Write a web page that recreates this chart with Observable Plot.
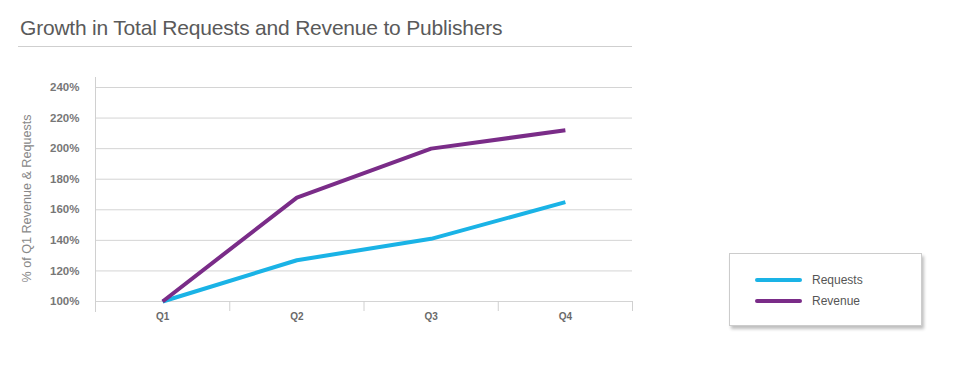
<!DOCTYPE html>
<html>
<head>
<meta charset="utf-8">
<script src="https://cdn.jsdelivr.net/npm/d3@7"></script>
<script src="https://cdn.jsdelivr.net/npm/@observablehq/plot@0.6"></script>
<style>
  html, body { margin: 0; padding: 0; background: #fff; }
  body { width: 970px; height: 372px; position: relative; overflow: hidden; font-family: "Liberation Sans", Arial, sans-serif; }
  #title { position: absolute; left: 20px; top: 16px; font-size: 21px; color: #5a5a5a; letter-spacing: -0.2px; font-weight: 400; }
  #rule { position: absolute; left: 18px; top: 46px; width: 614px; height: 1px; background: #cfcfcf; }
  #chart { position: absolute; left: 0; top: 50px; }
  #legend { position: absolute; left: 729px; top: 253px; width: 191px; height: 71px; border: 1px solid #cccccc; box-shadow: 2px 3px 3px rgba(0,0,0,0.25); background: #fff; }
  .item { position: absolute; left: 25px; height: 14px; font-size: 12px; color: #555; }
  .sw { position: absolute; left: 0; top: 5px; width: 47px; height: 4px; border-radius: 2px; }
  .lab { position: absolute; left: 57px; top: 0; line-height: 14px; white-space: nowrap; }
</style>
</head>
<body>
<div id="title">Growth in Total Requests and Revenue to Publishers</div>
<div id="rule"></div>
<div id="chart"></div>
<div id="legend"></div>
<script>
const quarters = ["Q1", "Q2", "Q3", "Q4"];
const requests = [100, 127, 141, 165];
const revenue = [100, 168, 200, 212];
const seriesNames = ["Requests", "Revenue"];
const seriesColors = ["#1ab3e6", "#7a2c88"];
const yTicks = [100, 120, 140, 160, 180, 200, 220, 240];
const yLabel = "% of Q1 Revenue & Requests";

const data = quarters.flatMap((q, i) => [
  {q, i, series: seriesNames[0], value: requests[i]},
  {q, i, series: seriesNames[1], value: revenue[i]}
]);

const plot = Plot.plot({
  width: 970,
  height: 322,
  marginLeft: 95,
  marginRight: 338,
  marginTop: 37,
  marginBottom: 71,
  style: {fontFamily: "'Liberation Sans', Arial, sans-serif", background: "transparent"},
  x: {type: "linear", domain: [0, quarters.length]},
  y: {domain: [100, 240]},
  color: {domain: seriesNames, range: seriesColors},
  marks: [
    Plot.gridY(yTicks, {stroke: "#d4d4d4", strokeOpacity: 1}),
    Plot.ruleX([0], {stroke: "#d0d0d0", insetTop: -10, insetBottom: -11}),
    Plot.axisX(d3.range(quarters.length + 1), {tickSize: 10, tickFormat: () => "", stroke: "#d0d0d0", label: null}),
    Plot.axisX(quarters.map((q, i) => i + 0.5), {tickSize: 0, tickPadding: 11, tickFormat: d => quarters[Math.round(d - 0.5)], fontSize: 10, fontWeight: "bold", fill: "#6a6a6a", label: null}),
    Plot.axisY(yTicks, {tickSize: 0, tickPadding: 16, tickFormat: d => d + "%", fontSize: 11.5, fontWeight: "bold", fill: "#777", label: null}),
    Plot.text([yLabel], {text: d => d, frameAnchor: "left", rotate: -90, dx: -69, dy: 4, fontSize: 12.6, fill: "#888", textAnchor: "middle", lineAnchor: "middle"}),
    Plot.line(data, {x: d => d.i + 0.5, y: "value", z: "series", stroke: "series", strokeWidth: 4, strokeLinejoin: "miter", strokeLinecap: "butt"})
  ]
});
document.getElementById("chart").appendChild(plot);

const legend = document.getElementById("legend");
seriesNames.forEach((name, k) => {
  const item = document.createElement("div");
  item.className = "item";
  item.style.top = (19 + k * 21) + "px";
  const sw = document.createElement("div");
  sw.className = "sw";
  sw.style.background = seriesColors[k];
  const lab = document.createElement("div");
  lab.className = "lab";
  lab.textContent = name;
  item.appendChild(sw);
  item.appendChild(lab);
  legend.appendChild(item);
});
</script>
</body>
</html>
